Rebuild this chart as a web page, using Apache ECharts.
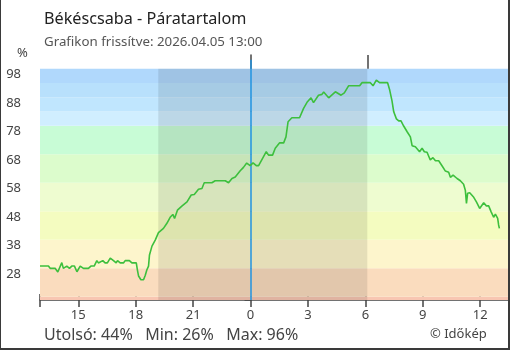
<!DOCTYPE html>
<html>
<head>
<meta charset="utf-8">
<script src="https://cdn.jsdelivr.net/npm/echarts@6/dist/echarts.min.js"></script>
<style>
  html, body { margin: 0; padding: 0; background: #fff; }
  #wrap { position: relative; width: 510px; height: 350px; }
  #chart { width: 510px; height: 350px; }
  #frame { position: absolute; left: 0; top: 0; width: 510px; height: 350px; box-sizing: border-box;
           border-left: 1px solid #3a3a3a; border-right: 2px solid #3a3a3a; border-bottom: 2px solid #3a3a3a;
           pointer-events: none; }
</style>
</head>
<body>
<div id="wrap"><div id="chart"></div><div id="frame"></div></div>
<script>
// Hours relative to midnight (0 = 00:00 on 2026.04.05)
const hours = [
  -11.0, -10.56, -10.47, -10.21, -10.07, -9.86, -9.78, -9.60, -9.46, -9.34,
  -9.20, -9.07, -8.90, -8.73, -8.47, -8.34, -8.17, -8.03, -7.95, -7.72,
  -7.60, -7.48, -7.33, -7.16, -7.02, -6.95, -6.81, -6.64, -6.55, -6.33,
  -6.20, -5.97, -5.91, -5.85, -5.73, -5.59, -5.50, -5.42, -5.33, -5.28,
  -5.15, -4.98, -4.81, -4.55, -4.37, -4.20, -4.06, -3.97, -3.82, -3.59,
  -3.32, -3.10, -2.94, -2.72, -2.54, -2.42, -2.02, -1.85, -1.32, -1.15,
  -0.97, -0.80, -0.54, -0.37, -0.20, -0.02, 0.13, 0.30, 0.42, 0.60,
  0.82, 0.94, 1.15, 1.29, 1.52, 1.73, 1.85, 1.96, 2.16, 2.56,
  2.77, 2.95, 3.16, 3.29, 3.55, 3.73, 3.82, 4.08, 4.43, 4.52,
  4.73, 4.90, 5.12, 5.70, 5.82, 6.26, 6.40, 6.57, 6.74, 7.16,
  7.27, 7.39, 7.48, 7.62, 7.74, 7.86, 8.00, 8.18, 8.35, 8.44,
  8.61, 8.83, 8.96, 9.08, 9.22, 9.39, 9.53, 9.66, 9.83, 10.01,
  10.18, 10.35, 10.44, 10.58, 10.79, 10.96, 11.13, 11.22, 11.28, 11.34,
  11.45, 11.66, 11.80, 11.97, 12.18, 12.32, 12.44, 12.57, 12.70, 12.79,
  12.91, 12.96, 13.0
];
// Relative humidity, %
const humidity = [
  30.8, 30.8, 30.0, 30.0, 28.7, 32.0, 30.0, 30.8, 30.0, 30.8,
  30.8, 28.8, 30.8, 30.0, 30.0, 30.8, 30.8, 32.7, 31.9, 32.7,
  31.9, 31.9, 33.6, 32.7, 31.9, 32.7, 31.9, 31.9, 32.7, 32.7,
  31.9, 31.9, 29.4, 27.3, 26.0, 26.0, 27.6, 29.4, 30.8, 34.7,
  37.8, 39.9, 42.5, 44.0, 45.8, 47.9, 48.9, 47.5, 50.4, 51.8,
  53.3, 55.7, 55.9, 57.7, 58.0, 60.0, 60.0, 60.7, 60.7, 60.0,
  61.5, 62.0, 64.2, 65.4, 66.9, 66.0, 67.0, 66.0, 66.0, 68.2,
  70.9, 69.7, 69.7, 72.1, 74.0, 74.0, 76.1, 81.4, 82.8, 82.8,
  86.1, 88.2, 89.8, 88.1, 90.7, 91.0, 91.8, 89.8, 91.9, 91.9,
  90.7, 91.5, 94.0, 94.0, 95.1, 95.1, 94.0, 96.0, 95.1, 95.1,
  92.5, 88.7, 84.9, 82.4, 81.7, 81.7, 79.9, 77.9, 76.1, 73.0,
  72.6, 70.9, 72.1, 70.9, 70.7, 68.0, 68.8, 67.7, 67.7, 65.9,
  64.1, 63.7, 61.9, 62.7, 61.5, 60.7, 59.5, 57.4, 52.8, 56.3,
  56.5, 54.9, 53.3, 51.0, 53.0, 51.9, 51.9, 49.8, 47.9, 49.0,
  47.5, 45.2, 44.0
];
// Axis ticks
const xTicks = [-9, -6, -3, 0, 3, 6, 9, 12];
const yTicks = [28, 38, 48, 58, 68, 78, 88, 98];
// Humidity bands: [from, to, colour]
const bandFrom   = [18.9, 20, 30, 40, 50, 60, 70, 80, 85, 90, 95];
const bandTo     = [20, 30, 40, 50, 60, 70, 80, 85, 90, 95, 100];
const bandColors = ['#f8c6b2', '#fadcbe', '#fdf5cc', '#f4fcc0', '#eefcd0', '#dcfccc',
                    '#c8fcd6', '#d0eeff', '#c0e6fe', '#b8e0fc', '#b0d8fc'];
// Night (sunset -> sunrise), hours relative to midnight
const sunset = -4.82, sunrise = 6.1;

const title = 'Békéscsaba - Páratartalom';
const subtitle = 'Grafikon frissítve: 2026.04.05 13:00';

const X_MIN = -11, X_MAX = 13.45, Y_MIN = 18.9, Y_MAX = 104.8;

const points = hours.map((h, i) => [h, humidity[i]]);
const last = humidity[humidity.length - 1];
const minV = Math.min(...humidity), maxV = Math.max(...humidity);
const stats = 'Utolsó: ' + Math.round(last) + '%   Min: ' + Math.round(minV) + '%   Max: ' + Math.round(maxV) + '%';

const fontFam = '"Noto Sans", "Open Sans", sans-serif';
const axisColor = '#444';

function hourLabel(v) { return String(((Math.round(v) % 24) + 24) % 24); }

const chart = echarts.init(document.getElementById('chart'), null, { renderer: 'canvas' });
chart.setOption({
  animation: false,
  backgroundColor: '#fff',
  title: [
    { text: title, left: 39, top: 6, textStyle: { fontFamily: fontFam, fontSize: 16.2, fontWeight: 'normal', color: '#222' } },
    { text: subtitle, left: 39, top: 31, textStyle: { fontFamily: fontFam, fontSize: 13.3, fontWeight: 'normal', color: '#555' } },
    { text: '%', left: 12, top: 42, textStyle: { fontFamily: fontFam, fontSize: 13, fontWeight: 'normal', color: '#444' } },
    { text: stats, left: 39, top: 322, textStyle: { fontFamily: fontFam, fontSize: 16, fontWeight: 'normal', color: '#444' } },
    { text: '© Időkép', left: 425, top: 323, textStyle: { fontFamily: fontFam, fontSize: 13, fontWeight: 'normal', color: '#444' } }
  ],
  grid: { left: 40, right: 2, top: 55, bottom: 50 },
  xAxis: [
    {
      type: 'value', min: X_MIN, max: X_MAX,
      axisLine: { lineStyle: { color: axisColor, width: 1.5 } },
      axisTick: { show: true, length: 7, customValues: [X_MIN].concat(xTicks), lineStyle: { color: axisColor, width: 1.5 } },
      axisLabel: { customValues: xTicks, formatter: hourLabel, margin: 9, color: '#444', fontFamily: fontFam, fontSize: 13 },
      splitLine: { show: false }
    },
    {
      type: 'value', min: X_MIN, max: X_MAX, position: 'bottom', offset: 0,
      axisLine: { show: false },
      axisTick: { show: true, inside: true, length: 6, customValues: [X_MIN].concat(xTicks), lineStyle: { color: axisColor, width: 1.5 } },
      axisLabel: { show: false }, splitLine: { show: false }
    }
  ],
  yAxis: [
    {
      type: 'value', min: Y_MIN, max: Y_MAX,
      axisLine: { show: true, lineStyle: { color: axisColor, width: 1.5 } },
      axisTick: { show: true, length: 6, customValues: [Y_MIN].concat(yTicks), lineStyle: { color: axisColor, width: 1.5 } },
      axisLabel: { customValues: yTicks, margin: 19, color: '#444', fontFamily: fontFam, fontSize: 13 },
      splitLine: { show: false }
    },
    {
      type: 'value', min: Y_MIN, max: Y_MAX, position: 'left', offset: 0,
      axisLine: { show: false },
      axisTick: { show: true, inside: true, length: 6, customValues: yTicks, lineStyle: { color: axisColor, width: 1.5 } },
      axisLabel: { show: false }, splitLine: { show: false }
    }
  ],
  series: [
    {
      // humidity colour bands
      type: 'line', data: [], z: 1, silent: true,
      markArea: {
        silent: true,
        data: bandFrom.map((f, i) => [
          { yAxis: f, itemStyle: { color: bandColors[i] } },
          { yAxis: bandTo[i] }
        ])
      }
    },
    {
      // night shading
      type: 'line', data: [], z: 2, silent: true,
      markArea: {
        silent: true,
        itemStyle: { color: 'rgba(0,0,0,0.095)' },
        data: [[{ coord: [sunset, Y_MIN] }, { coord: [sunrise, 100] }]]
      },
      markLine: {
        silent: true, symbol: 'none', label: { show: false },
        data: [
          [{ coord: [0, Y_MIN], lineStyle: { color: '#2193e0', width: 1.5, type: 'solid' } }, { coord: [0, 103.1] }],
          [{ coord: [sunrise, 100], lineStyle: { color: '#444', width: 1.5, type: 'solid' } }, { coord: [sunrise, Y_MAX] }]
        ]
      }
    },
    {
      name: 'Páratartalom',
      type: 'line', z: 5,
      data: points,
      showSymbol: false, symbol: 'none',
      lineStyle: { color: '#3dbf3d', width: 1.6 },
      itemStyle: { color: '#3dbf3d' }
    }
  ]
});
</script>
</body>
</html>
